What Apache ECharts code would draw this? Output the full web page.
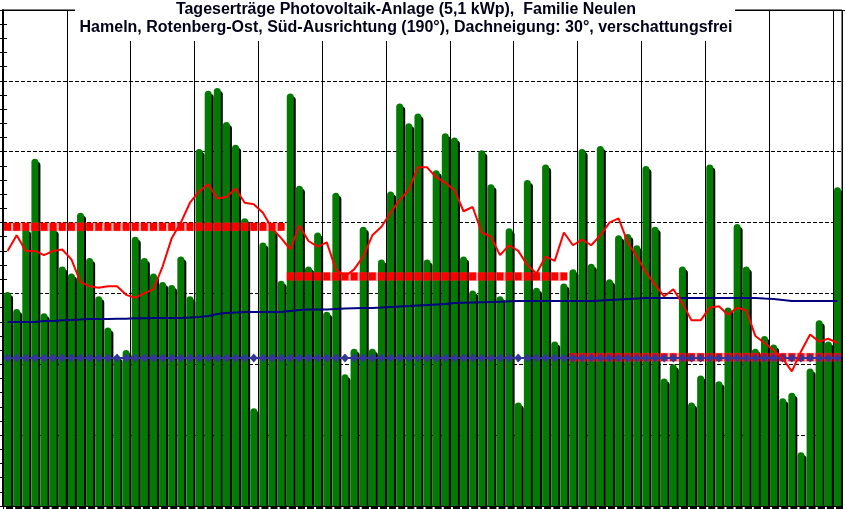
<!DOCTYPE html>
<html>
<head>
<meta charset="utf-8">
<script src="https://cdn.jsdelivr.net/npm/echarts@6/dist/echarts.min.js"></script>
<style>
  html, body { margin: 0; padding: 0; background: #fff; }
  #chart { width: 845px; height: 509px; }
</style>
</head>
<body>
<div id="chart"></div>
<script>
// Monate Juli - September
const monthNames = ['7', '8', '9'];
const monthDays = [31, 31, 30];

// Tagesertrag kWh
const dailyYield = [
  15.1, 13.9, 19.6, 24.5, 13.6, 19.6, 16.9, 16.4, 20.7, 17.5,
  14.8, 12.6, 10.6, 11.0, 19.0, 17.5, 16.4, 15.8, 15.6, 17.6,
  14.8, 25.2, 29.3, 29.5, 27.1, 25.5, 20.3, 6.9, 18.6, 19.6,
  15.9, 29.1, 22.6, 16.9, 19.3, 13.7, 22.1, 9.3, 11.1, 19.7,
  11.1, 17.4, 22.2, 28.4, 27.0, 27.7, 17.4, 23.7, 26.3, 26.0,
  17.6, 15.2, 25.1, 22.7, 14.8, 19.6, 7.3, 23.0, 15.4, 24.1,
  11.6, 15.7, 16.7, 25.2, 17.1, 25.4, 16.0, 19.1, 19.2, 18.4,
  24.0, 19.7, 9.0, 10.0, 16.9, 7.3, 9.2, 24.1, 8.8, 14.0,
  19.9, 16.9, 11.1, 12.0, 11.4, 7.6, 8.0, 3.8, 9.7, 13.1,
  11.6, 22.5
];

// gleitender Mittelwert (rote Linie)
const movingAvg = [
  18.0, 19.1, 18.0, 18.0, 17.7, 18.0, 18.1, 17.4, 15.8, 15.5,
  15.4, 15.5, 15.5, 14.9, 14.7, 15.0, 15.3, 16.9, 18.9, 20.0,
  21.4, 22.2, 22.7, 21.7, 21.8, 22.4, 21.4, 21.3, 20.7, 19.6,
  18.9, 18.1, 19.8, 18.7, 18.3, 18.6, 16.7, 16.2, 16.7, 17.6,
  19.1, 19.7, 20.7, 21.6, 22.3, 23.9, 23.9, 23.2, 22.8, 22.3,
  20.8, 21.1, 19.3, 19.0, 17.7, 18.4, 18.0, 17.0, 16.4, 17.6,
  17.3, 19.3, 18.4, 18.8, 18.4, 19.1, 20.0, 20.3, 18.6, 17.6,
  16.5, 15.6, 14.8, 15.3, 14.3, 13.1, 13.1, 14.0, 14.1, 13.5,
  14.0, 13.8, 12.0, 11.5, 11.0, 10.4, 9.5, 10.9, 12.1, 11.6,
  11.8, 11.5
];

// Jahresmittel bis dato (dunkelblaue Linie)
const yearAvg = [
  12.98, 12.98, 12.98, 12.98, 13.05, 13.05, 13.1, 13.13, 13.16, 13.2,
  13.2, 13.2, 13.22, 13.22, 13.25, 13.25, 13.27, 13.27, 13.27, 13.27,
  13.3, 13.34, 13.41, 13.55, 13.62, 13.66, 13.69, 13.69, 13.69, 13.69,
  13.69, 13.76, 13.83, 13.87, 13.87, 13.87, 13.9, 13.93, 13.95, 13.97,
  13.97, 14.0, 14.04, 14.08, 14.11, 14.15, 14.18, 14.22, 14.25, 14.32,
  14.34, 14.36, 14.38, 14.4, 14.42, 14.44, 14.46, 14.47, 14.47, 14.47,
  14.47, 14.47, 14.47, 14.47, 14.47, 14.5, 14.54, 14.57, 14.61, 14.64,
  14.68, 14.68, 14.68, 14.68, 14.68, 14.68, 14.68, 14.68, 14.68, 14.68,
  14.68, 14.68, 14.68, 14.64, 14.61, 14.54, 14.47, 14.47, 14.47, 14.47,
  14.47, 14.47
];

// Monatsmittel
const monthAvg = [19.7, 16.2, 10.5];
// Sollwert / Prognose (blaue Rauten)
const targetAvg = 10.44;

const categories = [];
monthNames.forEach((m, mi) => {
  for (let d = 1; d <= monthDays[mi]; d++) categories.push(d + '.' + m + '.');
});

// Monatsmittel als eigene Serien
const monthSeries = [];
let start = 0;
monthAvg.forEach((v, mi) => {
  const data = categories.map((c, i) => (i >= start && i < start + monthDays[mi]) ? v : '-');
  start += monthDays[mi];
  monthSeries.push({
    name: 'Monatsmittel ' + monthNames[mi],
    type: 'line',
    data: data,
    z: 3,
    symbol: 'rect',
    symbolSize: [7, 8],
    showAllSymbol: true,
    itemStyle: { color: '#ff0000' },
    lineStyle: { color: 'rgba(255,60,60,0.35)', width: 9 },
    silent: true
  });
});

const chart = echarts.init(document.getElementById('chart'));

const titleFont = 'bold 16px "Liberation Sans", Arial, sans-serif';

const option = {
  animation: false,
  backgroundColor: '#fff',
  grid: {
    left: 3, right: 3, top: 10, bottom: 3,
    show: true, borderColor: '#000', borderWidth: 1
  },
  xAxis: {
    type: 'category',
    data: categories,
    boundaryGap: true,
    axisLine: { lineStyle: { color: '#000', width: 1 } },
    axisTick: { show: true, interval: 0, length: 3, lineStyle: { color: '#000' } },
    axisLabel: { show: false },
    splitLine: {
      show: true,
      interval: (i) => i > 0 && i % 7 === 0,
      lineStyle: { color: '#000', width: 1 }
    }
  },
  yAxis: [{
    type: 'value',
    min: 0, max: 35, interval: 5,
    axisLine: { show: true, lineStyle: { color: '#000', width: 2 } },
    axisTick: { show: true, length: 3, lineStyle: { color: '#000' } },
    minorTick: { show: true, splitNumber: 5, length: 3, lineStyle: { color: '#000' } },
    axisLabel: { show: false },
    splitLine: { show: true, showMaxLine: false, showMinLine: false, lineStyle: { color: '#000', width: 1, type: [4, 2] } }
  }, {
    type: 'value',
    position: 'left',
    min: 0, max: 35, interval: 5,
    axisLine: { show: false },
    axisTick: { show: true, inside: true, length: 4, lineStyle: { color: '#000' } },
    minorTick: { show: true, splitNumber: 5, length: 4, lineStyle: { color: '#000' } },
    axisLabel: { show: false },
    splitLine: { show: false }
  }],
  graphic: [
    // obere Rahmenlinie durchgezogen
    { type: 'line', shape: { x1: 0, y1: 10.5, x2: 845, y2: 10.5 }, style: { stroke: '#000', lineWidth: 1 }, z: 49 },
    { type: 'rect', shape: { x: 75, y: 0, width: 660, height: 41 }, style: { fill: '#fff' }, z: 50 },
    {
      type: 'text', z: 51, x: 406, y: 10,
      style: {
        text: 'Tageserträge Photovoltaik-Anlage (5,1 kWp),  Familie Neulen',
        font: titleFont,
        fill: '#000018', align: 'center', textAlign: 'center', verticalAlign: 'middle', textVerticalAlign: 'middle'
      }
    },
    {
      type: 'text', z: 51, x: 406, y: 28,
      style: {
        text: 'Hameln, Rotenberg-Ost, Süd-Ausrichtung (190°), Dachneigung: 30°, verschattungsfrei',
        font: titleFont,
        fill: '#000018', align: 'center', textAlign: 'center', verticalAlign: 'middle', textVerticalAlign: 'middle'
      }
    }
  ],
  series: [
    {
      name: 'Tagesertrag',
      type: 'bar',
      data: dailyYield,
      barWidth: 7,
      z: 2,
      itemStyle: {
        color: '#037b03',
        borderRadius: [4, 4, 0, 0],
        shadowColor: '#000',
        shadowBlur: 0,
        shadowOffsetX: 2,
        shadowOffsetY: 3
      },
      silent: true
    },
    ...monthSeries,
    {
      name: 'Soll',
      type: 'line',
      data: categories.map(() => targetAvg),
      z: 4,
      symbol: 'diamond',
      symbolSize: [8, 9],
      showAllSymbol: true,
      itemStyle: { color: '#35359a' },
      lineStyle: { color: '#35359a', width: 2 },
      silent: true
    },
    {
      name: 'Jahresmittel',
      type: 'line',
      data: yearAvg,
      z: 5,
      symbol: 'none',
      lineStyle: { color: '#000080', width: 2 },
      silent: true
    },
    {
      name: 'Mittelwert',
      type: 'line',
      data: movingAvg,
      z: 6,
      symbol: 'none',
      lineStyle: { color: '#ff0000', width: 2 },
      silent: true
    }
  ]
};

chart.setOption(option);
</script>
</body>
</html>
